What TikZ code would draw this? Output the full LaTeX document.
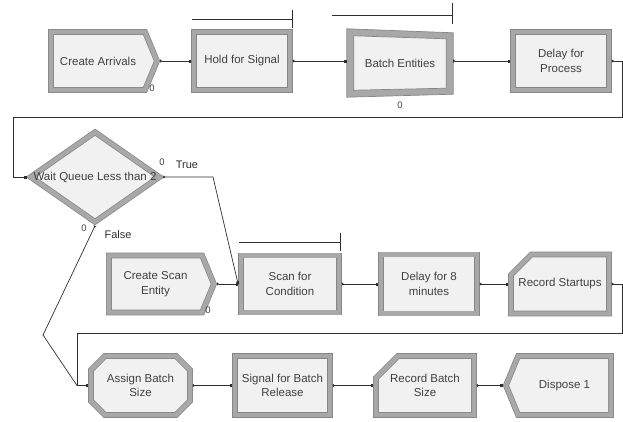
\documentclass[tikz,border=0pt]{standalone}
\usepackage{fontspec}
\setmainfont{Liberation Sans}
\usepackage{xcolor}
\usetikzlibrary{positioning, shapes, calc, arrows.meta, backgrounds}

\definecolor{panel}{HTML}{F1F1F1}
\definecolor{framegray}{HTML}{A8A8A8}
\definecolor{frameedge}{HTML}{868686}
\definecolor{txtgray}{HTML}{404040}
\definecolor{linegray}{HTML}{2E2E2E}

\begin{document}
\begin{tikzpicture}[x=1pt, y=-1pt,
    module/.style={draw=frameedge, line width=5.8pt, fill=panel, postaction={draw=framegray, line width=4.4pt},
      text=txtgray, font=\fontsize{11.5}{14.5}\selectfont, align=center, inner sep=1pt},
    modtext/.style={text=txtgray, font=\fontsize{11.5}{14.5}\selectfont, align=center, inner sep=0pt},
    conn/.style={draw=linegray, line width=0.7pt, {Triangle[length=2pt,width=3pt,reversed]}-{Square[length=2.6pt,width=2.6pt]}},
    queue/.style={draw=linegray, line width=0.6pt},
    count/.style={font=\fontsize{9.5}{9.5}\selectfont, text=txtgray, inner sep=0pt},
    branch/.style={font=\fontsize{11}{11}\selectfont, text=linegray, inner sep=0pt}]
      \useasboundingbox (0,0) rectangle (623,421);

      % Arrivals and batching
      \node[module, signal, signal to=east, signal pointer angle=135, minimum width=106pt, minimum height=58pt] (arrive) at (98,61) {Create Arrivals};
      \node[module, minimum width=96pt, minimum height=58pt] (hold) at (242,61) {Hold for Signal};
      \node[modtext, minimum width=106pt, minimum height=68pt] (batch) at (400,63) {Batch Entities};
      \node[module, minimum width=96pt, minimum height=58pt] (proc) at (561,61) {Delay for\\Process};

      \begin{scope}[on background layer]
        \filldraw[fill=framegray, draw=frameedge, line width=0.7pt] (batch.north west) -- ($(batch.north east)+(0,4)$)
          -- ($(batch.south east)+(0,-3)$) -- (batch.south west) -- cycle;
        \filldraw[fill=panel, draw=frameedge, line width=0.7pt] ($(batch.north west)+(7,7)$) -- ($(batch.north east)+(-7,10)$)
          -- ($(batch.south east)+(-7,-9)$) -- ($(batch.south west)+(7,-7)$) -- cycle;
      \end{scope}

      % Queues
      \draw[queue] ($(hold.north west)+(1,-10)$) -- ($(hold.north east)+(-1,-10)$);
      \draw[queue] ($(hold.north east)+(-1,-19)$) -- ($(hold.north east)+(-1,-1)$);
      \draw[queue] ($(batch.north west)+(-15,-14)$) -- ($(batch.north east)+(-1,-14)$);
      \draw[queue] ($(batch.north east)+(-1,-26)$) -- ($(batch.north east)+(-1,-5)$);

      \node[count] (arrivecount) at (152,88) {0};
      \node[count] (batchcount) at (400,105) {0};

      % Decision
      \node[module, diamond, minimum width=131pt, minimum height=92pt, inner sep=0pt] (wait) at (95,177) {};
      \node[modtext] (waittext) at (wait.center) {Wait Queue Less than 2};
      \node[count] (truecount) at (162,162) {0};
      \node[count] (falsecount) at (84,228) {0};
      \node[branch] (truelabel) at (187,165) {True};
      \node[branch] (falselabel) at (118,235) {False};

      % Scan branch
      \node[module, signal, signal to=east, signal pointer angle=135, minimum width=105pt, minimum height=57pt] (scanent) at (155.5,284) {Create Scan\\Entity};
      \node[module, minimum width=98pt, minimum height=57pt] (scan) at (290,284) {Scan for\\Condition};
      \node[module, minimum width=96pt, minimum height=59pt] (delayeight) at (429,284) {Delay for 8\\minutes};
      \node[module, chamfered rectangle, chamfered rectangle corners=north west, chamfered rectangle sep=14pt,
        minimum width=98pt, minimum height=59pt] (recstart) at (560,284) {Record Startups};
      \node[count] (scancount) at (208,310) {0};

      \draw[queue] ($(scan.north west)+(1,-10)$) -- ($(scan.north east)+(-2,-10)$);
      \draw[queue] ($(scan.north east)+(-2,-20)$) -- ($(scan.north east)+(-2,-2)$);

      % Batch size and release
      \node[module, chamfered rectangle, chamfered rectangle sep=7pt, minimum width=99pt, minimum height=59pt] (assign) at (140.5,385.5) {Assign Batch\\Size};
      \node[module, minimum width=95pt, minimum height=59pt] (release) at (282.5,385.5) {Signal for Batch\\Release};
      \node[module, chamfered rectangle, chamfered rectangle corners=north west, chamfered rectangle sep=11pt,
        minimum width=98pt, minimum height=59pt] (recbatch) at (425,385.5) {Record Batch\\Size};
      \node[module, signal, signal to=west, signal pointer angle=135, minimum width=105pt, minimum height=59pt] (dispose) at (564.5,385.5) {Dispose 1};

      % Routing points
      \coordinate (loopA) at (622,117);
      \coordinate (loopB) at (13,177);
      \coordinate (trueK) at (213,177);
      \coordinate (falseK) at (43,335);
      \coordinate (loopC) at (622,333);
      \coordinate (loopD) at (77,385.5);

      % Connectors
      \draw[conn] (arrive.east) -- (hold.west);
      \draw[conn] (hold.east) -- (hold.east -| batch.west);
      \draw[conn] (batch.east |- proc.west) -- (proc.west);
      \draw[conn] (proc.east) -| (loopA) -| (loopB) -- (wait.west);
      \draw[conn] (wait.east) -- (trueK) -- (scan.west);
      \draw[conn] (wait.south) -- (falseK) -- (loopD) -- (assign.west);
      \draw[conn] (scanent.east) -- (scan.west);
      \draw[conn] (scan.east) -- (delayeight.west);
      \draw[conn] (delayeight.east) -- (recstart.west);
      \draw[conn] (recstart.east) -| (loopC) -| (loopD) -- (assign.west);
      \draw[conn] (assign.east) -- (release.west);
      \draw[conn] (release.east) -- (recbatch.west);
      \draw[conn] (recbatch.east) -- (dispose.west);
\end{tikzpicture}
\end{document}
